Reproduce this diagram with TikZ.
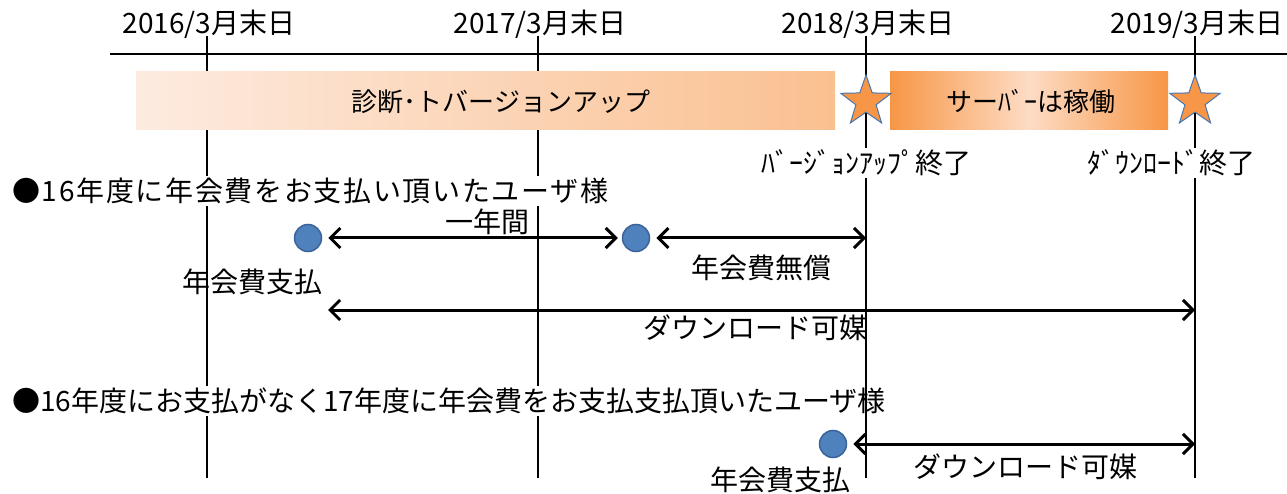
\documentclass[tikz,border=0pt]{standalone}
\usepackage{fontspec}
\setmainfont{Noto Sans CJK JP}
\usetikzlibrary{shapes.geometric, arrows.meta, positioning}

\definecolor{payblue}{HTML}{4F81BD}
\definecolor{payedge}{HTML}{3A6399}
\definecolor{staror}{HTML}{F79646}
\definecolor{staredge}{HTML}{4A76B0}
\definecolor{diagl}{HTML}{FDEBE0}
\definecolor{diagr}{HTML}{FAC090}
\definecolor{runmid}{HTML}{FDDCC5}

\begin{document}
\begin{tikzpicture}[x=1pt, y=-1pt,
    yearline/.style={line width=1.2pt},
    span/.style={line width=3pt, {Straight Barb[length=10pt,width=20pt]}-{Straight Barb[length=10pt,width=20pt]}},
    payed/.style={circle, fill=payblue, draw=payedge, line width=1.5pt, minimum size=27pt, inner sep=0pt},
    endstar/.style={star, star points=5, star point ratio=2.5, fill=staror, draw=staredge, line width=1pt, minimum size=53pt, inner sep=0pt},
    txt/.style={font=\fontsize{28}{32}\selectfont, inner sep=1pt},
    cover/.style={txt, fill=white, inner sep=2pt}]

    \useasboundingbox (0,0) rectangle (1287,494);

    % time axis
    \draw[line width=1.6pt] (110,54) -- (1287,54);
    \foreach \x/\yr in {207/2016, 538/2017, 866/2018, 1195/2019}{
        \coordinate (top\yr) at (\x,36);
        \coordinate (bot\yr) at (\x,478);
        \node[txt] (date\yr) at (\x+2,24) {\yr/3月末日};
        \draw[yearline] (top\yr) -- (bot\yr);
    }

    % phases
    \node[draw=none, left color=diagl, right color=diagr, minimum width=699pt, minimum height=58pt, inner sep=0pt] (diagbox) at (485.5,101) {};
    \node[txt, font=\fontsize{26}{30}\selectfont] (diag) at (501,102) {診断･トバージョンアップ};
    \node[draw=none, left color=staror, right color=staror, middle color=runmid, minimum width=278pt, minimum height=58pt, inner sep=0pt] (runbox) at (1029,101) {};
    \node[txt, font=\fontsize{26}{30}\selectfont] (run) at (1031,102) {サーﾊﾞｰは稼働};

    \node[endstar] (s18) at (866,101.5) {};
    \node[endstar] (s19) at (1195,101.5) {};
    \node[cover] (vupend) at (866,163) {ﾊﾞｰｼﾞｮﾝｱｯﾌﾟ終了};
    \node[cover] (dlend) at (1171,163) {ﾀﾞｳﾝﾛｰﾄﾞ終了};

    % users paying in 2016
    \node[cover, anchor=west, font=\fontsize{28}{32}\selectfont\addfontfeature{LetterSpace=6}] (case1) at (10,191) {●16年度に年会費をお支払い頂いたユーザ様};
    \node[payed] (p1) at (308,238) {};
    \node[payed] (p2) at (636,238) {};
    \coordinate (free1) at (866,238);
    \coordinate (dlA) at (328,310);
    \coordinate (dlB) at (1195,310);
    \node[txt] (year) at (487,222) {一年間};
    \node[txt] (pay1) at (252,282) {年会費支払};
    \node[txt] (free) at (761,268) {年会費無償};
    \node[txt] (dl1) at (755,328) {ダウンロード可媒};
    \path[span]
    (p1) edge [shorten <=6pt, shorten >=4pt] (p2)
    (p2) edge [shorten <=6pt] (free1)
    (dlA) edge (dlB);

    % users paying in 2017
    \node[cover, anchor=west] (case2) at (10,401) {●16年度にお支払がなく17年度に年会費をお支払支払頂いたユーザ様};
    \draw[yearline] (866,185) -- (bot2018);
    \node[payed] (p3) at (833,444) {};
    \coordinate (dlC) at (1195,444);
    \node[txt] (pay2) at (780,480) {年会費支払};
    \node[txt] (dl2) at (1025,467) {ダウンロード可媒};
    \draw[span, shorten <=6pt] (p3) -- (dlC);

\end{tikzpicture}
\end{document}
